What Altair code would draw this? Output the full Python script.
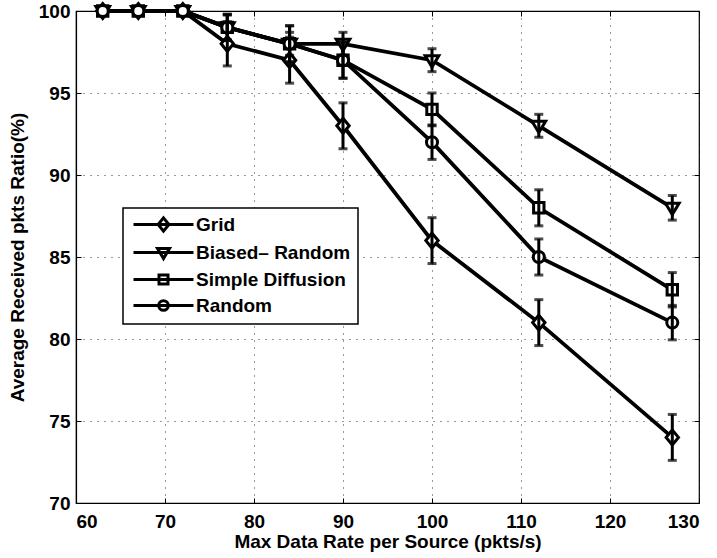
import altair as alt
import pandas as pd

# ---- data ----
x_vals = [63, 67, 72, 77, 84, 90, 100, 112, 127]
series_names = ["Grid", "Biased\u2013 Random", "Simple Diffusion", "Random"]
grid_y = [100, 100, 100, 98, 97, 93, 86, 81, 74]
biased_y = [100, 100, 100, 99, 98, 98, 97, 93, 88]
simple_y = [100, 100, 100, 99, 98, 97, 94, 88, 83]
random_y = [100, 100, 100, 99, 98, 97, 92, 85, 81]
grid_err = [0, 0, 0, 1.35, 1.4, 1.4, 1.4, 1.4, 1.4]
biased_err = [0, 0, 0, 0.75, 0.7, 0.7, 0.7, 0.7, 0.75]
simple_err = [0, 0, 0, 0.8, 1.1, 1.1, 1.0, 1.1, 1.05]
random_err = [0, 0, 0, 0.8, 1.1, 1.1, 1.05, 1.1, 1.05]
x_ticks = [60, 70, 80, 90, 100, 110, 120, 130]
y_ticks = [70, 75, 80, 85, 90, 95, 100]

rows = []
for name, ys, es in zip(series_names,
                        [grid_y, biased_y, simple_y, random_y],
                        [grid_err, biased_err, simple_err, random_err]):
    for i, (xv, yv, ev) in enumerate(zip(x_vals, ys, es)):
        rows.append({"series": name, "x": xv, "y": yv, "lo": yv - ev,
                     "hi": yv + ev, "err": ev, "order": i})
df = pd.DataFrame(rows)

FONT = "Liberation Sans"
FS = 19
W, H = 623, 492

# marker shapes (unit coordinates)
marker_paths = [
    "M0,-1.15L0.95,0L0,1.15L-0.95,0Z",
    "M-1.05,-0.7L1.05,-0.7L0,1.05Z",
    "M-0.8,-0.8H0.8V0.8H-0.8Z",
    "M-0.85,0A0.85,0.85 0 1,0 0.85,0A0.85,0.85 0 1,0 -0.85,0Z",
]
# legend shapes: a line with the marker in its middle
legend_paths = [
    "M-1,0L9,0M4,-1.1L4.9,0L4,1.1L3.1,0Z",
    "M-1,0L9,0M3,-0.65L5,-0.65L4,1Z",
    "M-1,0L9,0M3.25,-0.75L4.75,-0.75L4.75,0.75L3.25,0.75Z",
    "M-1,0L9,0M3.2,0A0.8,0.8 0 1,0 4.8,0A0.8,0.8 0 1,0 3.2,0Z",
]

xscale = alt.Scale(domain=[60, 130], nice=False, zero=False)
yscale = alt.Scale(domain=[70, 100], nice=False, zero=False)

def tick_axis(orient, offset, values):
    return alt.Axis(orient=orient, offset=offset, values=values, labels=False,
                    domain=False, grid=False, ticks=True, tickSize=5,
                    tickColor="black", tickWidth=1, title=None)

main_x = alt.Axis(values=x_ticks, title="Max Data Rate per Source (pkts/s)",
                  grid=True, ticks=False, domain=True, labelPadding=9,
                  titlePadding=1, orient="bottom")
main_y = alt.Axis(values=y_ticks, title="Average Received pkts Ratio(%)",
                  grid=True, ticks=False, domain=True, labelPadding=6,
                  titlePadding=11, orient="left")

base = alt.Chart(df)

lines = base.mark_line(color="black", strokeWidth=3.8).encode(
    x=alt.X("x:Q", scale=xscale, axis=main_x),
    y=alt.Y("y:Q", scale=yscale, axis=main_y),
    detail="series:N",
    order="order:Q",
)

points = base.mark_point(stroke="black", fill="white", filled=True,
                         strokeWidth=3, size=169, opacity=1).encode(
    x=alt.X("x:Q", scale=xscale, axis=None),
    y=alt.Y("y:Q", scale=yscale, axis=None),
    shape=alt.Shape("series:N", scale=alt.Scale(domain=series_names,
                                                range=marker_paths),
                    legend=None),
)

err_df = base.transform_filter("datum.err > 0")

bars = err_df.mark_rule(color="black", strokeWidth=3).encode(
    x=alt.X("x:Q", scale=xscale, axis=tick_axis("top", -H, x_ticks)),
    y=alt.Y("lo:Q", scale=yscale, axis=None),
    y2="hi:Q",
)

caps_lo = err_df.mark_tick(color="black", thickness=3, size=9,
                           orient="horizontal").encode(
    x=alt.X("x:Q", scale=xscale, axis=tick_axis("bottom", -H, x_ticks)),
    y=alt.Y("lo:Q", scale=yscale, axis=tick_axis("right", -W, y_ticks)),
)

caps_hi = err_df.mark_tick(color="black", thickness=3, size=9,
                           orient="horizontal").encode(
    x=alt.X("x:Q", scale=xscale, axis=None),
    y=alt.Y("hi:Q", scale=yscale, axis=tick_axis("left", -W, y_ticks)),
)

legend_layer = base.mark_point(
    color="black", filled=False, strokeWidth=3, size=144,
    opacity=0).encode(
    x=alt.X("x:Q", scale=xscale, axis=None),
    y=alt.Y("y:Q", scale=yscale, axis=None),
    shape=alt.Shape("series2:N",
                    scale=alt.Scale(domain=series_names, range=legend_paths),
                    legend=alt.Legend(
                        title=None, orient="none", legendX=47, legendY=197,
                        fillColor="white", strokeColor="black",
                        padding=7, labelOffset=47, symbolSize=144,
                        symbolStrokeWidth=3, symbolStrokeColor="black",
                        symbolOpacity=1,
                        labelFont=FONT, labelFontSize=FS,
                        labelFontWeight="bold", labelColor="black",
                        rowPadding=4, labelLimit=400,
                    )),
).transform_calculate(series2="datum.series")

chart = alt.layer(lines, points, bars, caps_lo, caps_hi, legend_layer).resolve_scale(
    shape="independent"
).resolve_axis(
    x="independent", y="independent"
).resolve_legend(shape="independent").properties(
    width=W, height=H,
    autosize=alt.AutoSizeParams(type="none"),
    padding={"left": 76, "top": 11, "right": 18, "bottom": 55},
    background="white",
).configure_view(
    stroke="black", strokeWidth=1.2
).configure_legend(
    strokeWidth=1.5
).configure_axis(
    labelFont=FONT, labelFontSize=FS, labelFontWeight="bold",
    labelColor="black", titleFont=FONT, titleFontSize=FS,
    titleFontWeight="bold", titleColor="black", domainColor="black",
    domainWidth=1.2, gridColor="black", gridDash=[1, 6], gridWidth=1,
    gridOpacity=0.8,
)

chart.save("out.html", embed_options={"renderer": "svg", "actions": False})
